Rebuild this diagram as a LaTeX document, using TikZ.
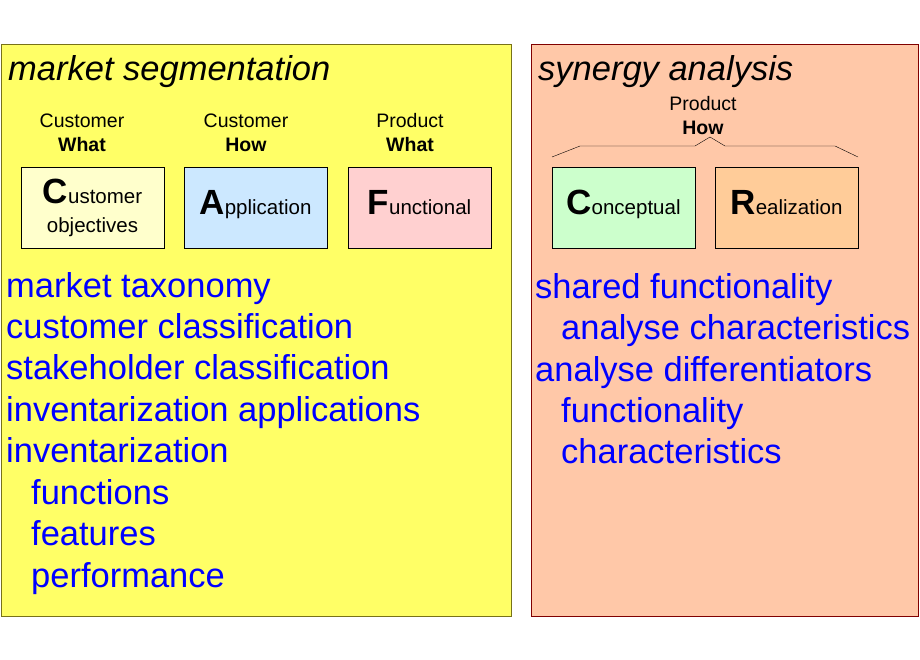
\documentclass[tikz,border=0pt]{standalone}
\usepackage{fontspec}
\setmainfont{Liberation Sans}
\definecolor{panelY}{HTML}{FFFF66}
\definecolor{panelR}{HTML}{FFC8A8}
\definecolor{boxY}{HTML}{FFFFCC}
\definecolor{boxB}{HTML}{CCE8FF}
\definecolor{boxP}{HTML}{FFD0D0}
\definecolor{boxG}{HTML}{CCFFCC}
\definecolor{boxO}{HTML}{FFCC99}
\tikzset{
  panel/.style={draw, thin},
  cell/.style={draw, thin, minimum width=143pt, minimum height=81pt, inner sep=0pt},
  head/.style={anchor=base west, font=\fontsize{34.5}{40}\selectfont\itshape, inner sep=0pt},
  item/.style={anchor=base west, text=blue, font=\fontsize{34.5}{40}\selectfont, inner sep=0pt},
  tag/.style={align=center, font=\fontsize{19.5}{24}\selectfont}
}
\newcommand{\capl}[1]{{\fontsize{35}{35}\selectfont\bfseries #1}}
\begin{document}
\begin{tikzpicture}[x=1pt, y=-1pt]
  \useasboundingbox (0,0) rectangle (920,660);
  % panels
  \draw[panel, draw=olive!80!black, fill=panelY] (1,44) rectangle (511,616);
  \draw[panel, draw=red!50!black, fill=panelR] (531,44) rectangle (918,616);
  \node[head] (segT) at (8,81) {market segmentation};
  \node[head] (synT) at (538,81) {synergy analysis};

  % left boxes
  \node[tag] (t1) at (82,133) {Customer\\\textbf{What}};
  \node[tag] (t2) at (246,133) {Customer\\\textbf{How}};
  \node[tag] (t3) at (410,133) {Product\\\textbf{What}};
  \node[cell, fill=boxY, align=center, font=\fontsize{20.5}{29}\selectfont] (cust) at (92.5,207.5) {\capl{C}ustomer\\objectives};
  \node[cell, fill=boxB, font=\fontsize{20.5}{24}\selectfont] (appl) at (255.5,207.5) {\raisebox{11pt}{\capl{A}pplication}};
  \node[cell, fill=boxP, font=\fontsize{20.5}{24}\selectfont] (func) at (419.5,207.5) {\raisebox{11pt}{\capl{F}unctional}};

  % right boxes
  \node[tag] (t4) at (703,116) {Product\\\textbf{How}};
  \node[cell, fill=boxG, font=\fontsize{20.5}{24}\selectfont] (conc) at (623.5,207.5) {\raisebox{11pt}{\capl{C}onceptual}};
  \node[cell, fill=boxO, font=\fontsize{20.5}{24}\selectfont] (real) at (786.5,207.5) {\raisebox{11pt}{\capl{R}ealization}};
  \draw (552,157) -- (580,146) -- (695,146) -- (710,137) -- (725,146) -- (835,146) -- (858,157);

  % left list
  \node[item] (l1) at (6,297) {market taxonomy};
  \node[item] (l2) at (6,338) {customer classification};
  \node[item] (l3) at (6,379) {stakeholder classification};
  \node[item] (l4) at (6,421) {inventarization applications};
  \node[item] (l5) at (6,462) {inventarization};
  \node[item] (l6) at (31,504) {functions};
  \node[item] (l7) at (31,545) {features};
  \node[item] (l8) at (31,587) {performance};

  % right list
  \node[item] (r1) at (535,298) {shared functionality};
  \node[item] (r2) at (561,339) {analyse characteristics};
  \node[item] (r3) at (535,381) {analyse differentiators};
  \node[item] (r4) at (561,422) {functionality};
  \node[item] (r5) at (561,463) {characteristics};
\end{tikzpicture}
\end{document}
